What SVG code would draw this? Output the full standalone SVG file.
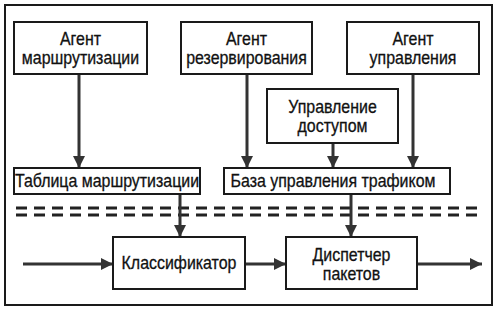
<svg xmlns="http://www.w3.org/2000/svg" width="500" height="310" viewBox="0 0 500 310">
<defs>
<style>
.box{fill:#fff;stroke:#1a1a1a;stroke-width:2}
.t{font-family:"Liberation Sans",Arial,sans-serif;font-size:18px;fill:#111;text-anchor:middle;stroke:#111;stroke-width:0.3}
.c{stroke:#333;stroke-width:3;fill:none;marker-end:url(#ah)}
.d{stroke:#222;stroke-width:3;stroke-dasharray:11 7}
</style>
<marker id="ah" markerUnits="userSpaceOnUse" markerWidth="12" markerHeight="12" viewBox="0 0 10 10" refX="10" refY="5" orient="auto">
<path d="M0,0 L10,5 L0,10 Z" fill="#333"/>
</marker>
</defs>
<rect x="0" y="0" width="500" height="310" fill="#fff"/>
<rect x="5" y="5" width="487" height="300" fill="none" stroke="#1a1a1a" stroke-width="2"/>
<g id="dashes">
<line class="d" x1="16" y1="208" x2="484" y2="208"/>
<line class="d" x1="16" y1="215" x2="484" y2="215"/>
</g>
<g id="connectors">
<line class="c" x1="79" y1="75" x2="79" y2="168"/>
<line class="c" x1="247" y1="75" x2="247" y2="168"/>
<line class="c" x1="333" y1="144" x2="333" y2="168"/>
<line class="c" x1="413" y1="75" x2="413" y2="168"/>
<line class="c" x1="180" y1="195" x2="180" y2="237"/>
<line class="c" x1="351" y1="195" x2="351" y2="237"/>
<line class="c" x1="23" y1="264" x2="113" y2="264"/>
<line class="c" x1="246" y1="264" x2="286" y2="264"/>
<line class="c" x1="418" y1="264" x2="482" y2="264"/>
</g>
<g id="agent-routing">
<rect class="box" x="14" y="22" width="133" height="52"/>
<text class="t" transform="translate(80.5 45) scale(0.885 1)">Агент</text>
<text class="t" transform="translate(80.5 64) scale(0.885 1)">маршрутизации</text>
</g>
<g id="agent-reservation">
<rect class="box" x="181" y="22" width="131" height="52"/>
<text class="t" transform="translate(246.5 45) scale(0.885 1)">Агент</text>
<text class="t" transform="translate(246.5 64) scale(0.885 1)">резервирования</text>
</g>
<g id="agent-management">
<rect class="box" x="347" y="22" width="132" height="52"/>
<text class="t" transform="translate(413 45) scale(0.885 1)">Агент</text>
<text class="t" transform="translate(413 64) scale(0.885 1)">управления</text>
</g>
<g id="access-control">
<rect class="box" x="267" y="89" width="131" height="54"/>
<text class="t" transform="translate(332.5 113) scale(0.885 1)">Управление</text>
<text class="t" transform="translate(332.5 132) scale(0.885 1)">доступом</text>
</g>
<g id="routing-table">
<rect class="box" x="14" y="168" width="186" height="26"/>
<text class="t" transform="translate(107 187) scale(0.885 1)">Таблица маршрутизации</text>
</g>
<g id="traffic-db">
<rect class="box" x="224" y="168" width="226" height="26"/>
<text class="t" transform="translate(333 187) scale(0.885 1)">База управления трафиком</text>
</g>
<g id="classifier">
<rect class="box" x="113" y="237" width="132" height="52"/>
<text class="t" transform="translate(179 269) scale(0.885 1)">Классификатор</text>
</g>
<g id="scheduler">
<rect class="box" x="286" y="237" width="131" height="52"/>
<text class="t" transform="translate(351.5 261) scale(0.885 1)">Диспетчер</text>
<text class="t" transform="translate(351.5 280) scale(0.885 1)">пакетов</text>
</g>
</svg>
